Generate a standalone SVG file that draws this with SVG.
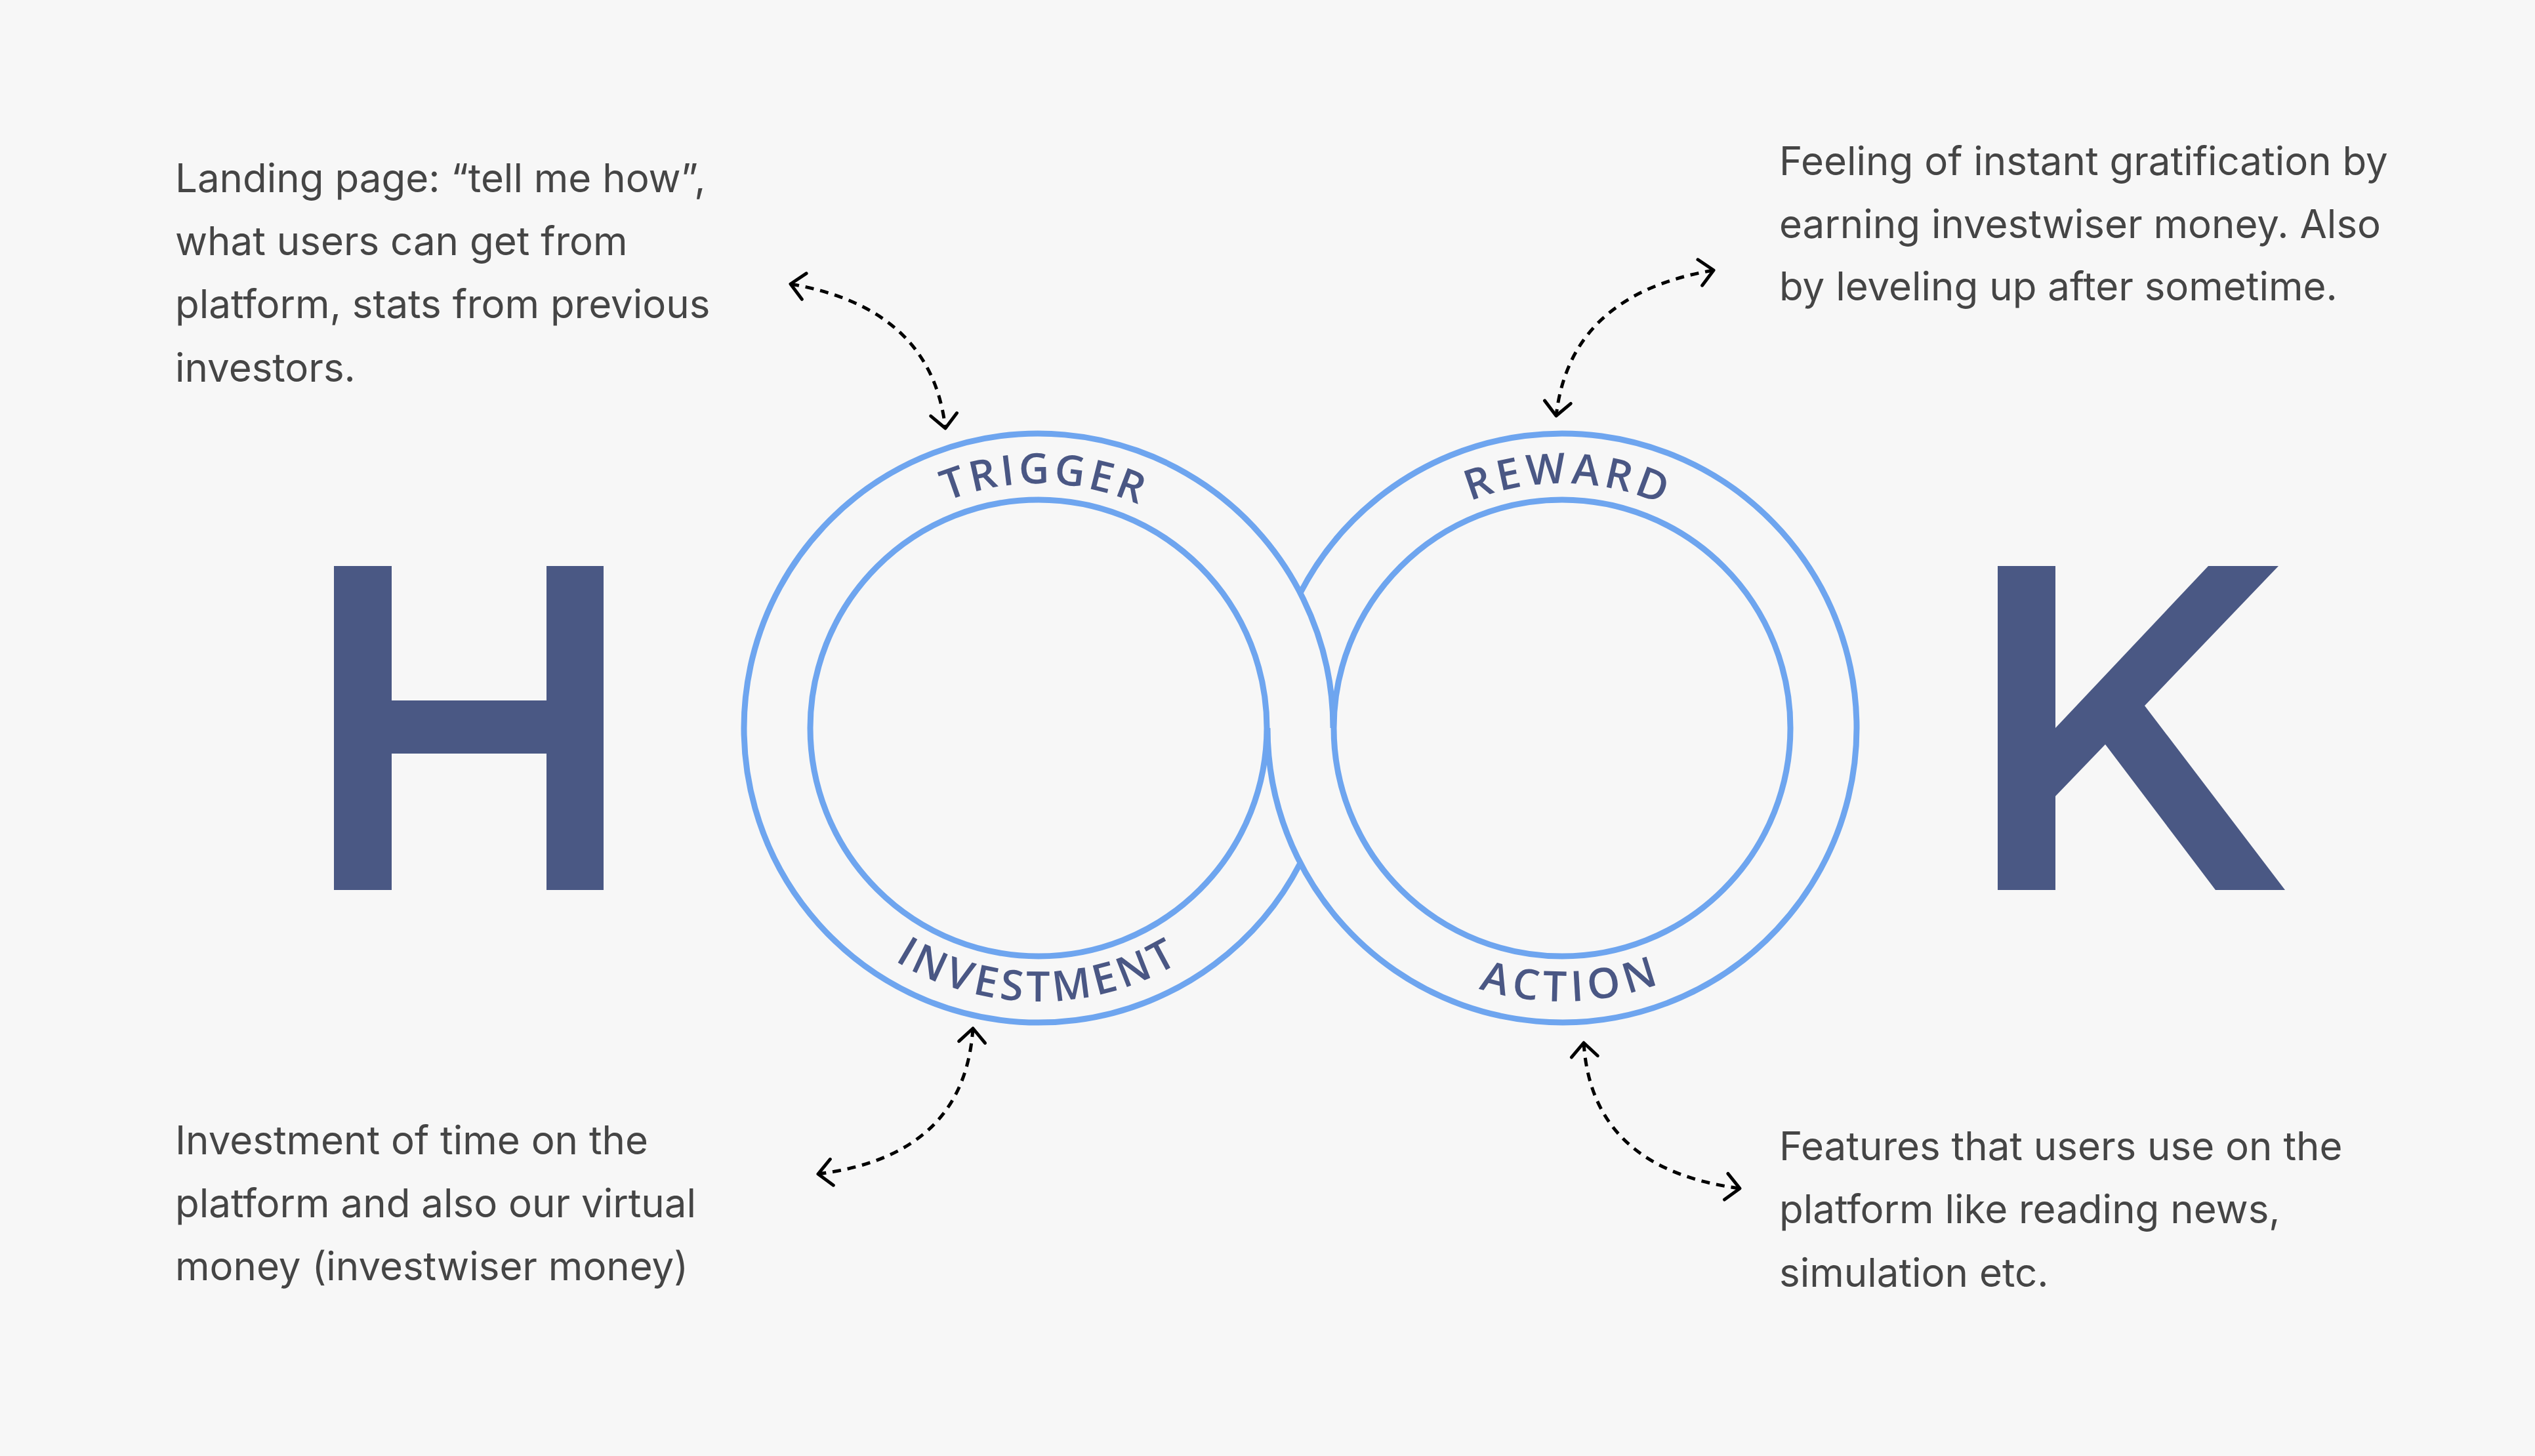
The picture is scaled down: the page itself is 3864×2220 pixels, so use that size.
<svg xmlns="http://www.w3.org/2000/svg" width="3864" height="2220" viewBox="0 0 3864 2220">
  <style>
    .ring { fill: none; stroke: #6ea5ef; stroke-width: 9; }
    .letter { fill: #4a5884; }
    .label { font-family: "Open Sans", "Lato", sans-serif; font-weight: 600; font-size: 64px; fill: #4a5784; }
    .note { font-family: Inter, "Noto Sans", sans-serif; font-size: 60px; fill: #454545; }
    .link { fill: none; stroke: #000; stroke-width: 5; stroke-dasharray: 13 10; marker-start: url(#chev); marker-end: url(#chev); }
  </style>
  <defs>
    <marker id="chev" viewBox="-32 -32 44 64" refX="0" refY="0" markerWidth="44" markerHeight="64" markerUnits="userSpaceOnUse" orient="auto-start-reverse">
      <path d="M-21,-20 L0,0 L-21,20" fill="none" stroke="#000" stroke-width="5" stroke-linecap="round" stroke-linejoin="round"/>
    </marker>
    <!-- baseline arcs for the ring captions -->
    <path id="arcTopL" d="M1210,1110 A373,373 0 0 1 1956,1110"/>
    <path id="arcBotL" d="M1166,1110 A417,417 0 0 0 2000,1110"/>
    <path id="arcTopR" d="M2008,1110 A373,373 0 0 1 2754,1110"/>
    <path id="arcBotR" d="M1964,1110 A417,417 0 0 0 2798,1110"/>
  </defs>

  <rect width="3864" height="2220" fill="#f7f7f7"/>

  <!-- big H -->
  <g id="letter-h">
    <path class="letter" d="M509,863 H597 V1068 H833 V863 H920 V1357 H833 V1149 H597 V1357 H509 Z"/>
  </g>

  <!-- big K -->
  <g id="letter-k">
    <path class="letter" d="M3045,863 H3133 V1110 L3366,863 H3473 L3269,1076 L3483,1357 H3377 L3209,1135 L3133,1214 V1357 H3045 Z"/>
  </g>

  <!-- left loop: trigger / investment -->
  <g id="loop-left">
    <path class="ring" d="M1982,1316 A449,449 0 1 1 2032,1110"/>
    <circle class="ring" cx="1583" cy="1110" r="348"/>
  </g>

  <!-- right loop: reward / action -->
  <g id="loop-right">
    <path class="ring" d="M1982,904 A449,449 0 1 1 1932,1110"/>
    <circle class="ring" cx="2381" cy="1110" r="348"/>
  </g>

  <g id="stage-trigger">
    <text class="label" transform="rotate(1 1583 1110)"><textPath href="#arcTopL" startOffset="50%" text-anchor="middle" textLength="300" lengthAdjust="spacing">TRIGGER</textPath></text>
  </g>
  <g id="stage-investment">
    <text class="label" transform="rotate(0.5 1583 1110)"><textPath href="#arcBotL" startOffset="50%" text-anchor="middle" textLength="455" lengthAdjust="spacing">INVESTMENT</textPath></text>
  </g>
  <g id="stage-reward">
    <text class="label" transform="rotate(1 2381 1110)"><textPath href="#arcTopR" startOffset="50%" text-anchor="middle" textLength="300" lengthAdjust="spacing">REWARD</textPath></text>
  </g>
  <g id="stage-action">
    <text class="label" transform="rotate(-1.5 2381 1110)"><textPath href="#arcBotR" startOffset="50%" text-anchor="middle" textLength="280" lengthAdjust="spacing">ACTION</textPath></text>
  </g>

  <!-- annotations -->
  <g id="note-trigger">
    <text class="note" x="267" y="293">Landing page: “tell me how”,</text>
    <text class="note" x="267" y="389">what users can get from</text>
    <text class="note" x="267" y="485">platform, stats from previous</text>
    <text class="note" x="267" y="582">investors.</text>
  </g>
  <g id="note-reward">
    <text class="note" x="2712" y="267">Feeling of instant gratification by</text>
    <text class="note" x="2712" y="363">earning investwiser money. Also</text>
    <text class="note" x="2712" y="458">by leveling up after sometime.</text>
  </g>
  <g id="note-investment">
    <text class="note" x="267" y="1760">Investment of time on the</text>
    <text class="note" x="267" y="1856">platform and also our virtual</text>
    <text class="note" x="267" y="1952">money (investwiser money)</text>
  </g>
  <g id="note-action">
    <text class="note" x="2712" y="1769">Features that users use on the</text>
    <text class="note" x="2712" y="1865">platform like reading news,</text>
    <text class="note" x="2712" y="1962">simulation etc.</text>
  </g>

  <!-- dashed two-way connectors -->
  <g id="connectors">
    <path class="link" d="M1205,433 Q1420,470 1441,653"/>
    <path class="link" d="M2612,412 Q2393,449 2372,634"/>
    <path class="link" d="M1483,1568 Q1470,1762 1247,1790"/>
    <path class="link" d="M2414,1590 Q2426,1782 2652,1812"/>
  </g>
</svg>
